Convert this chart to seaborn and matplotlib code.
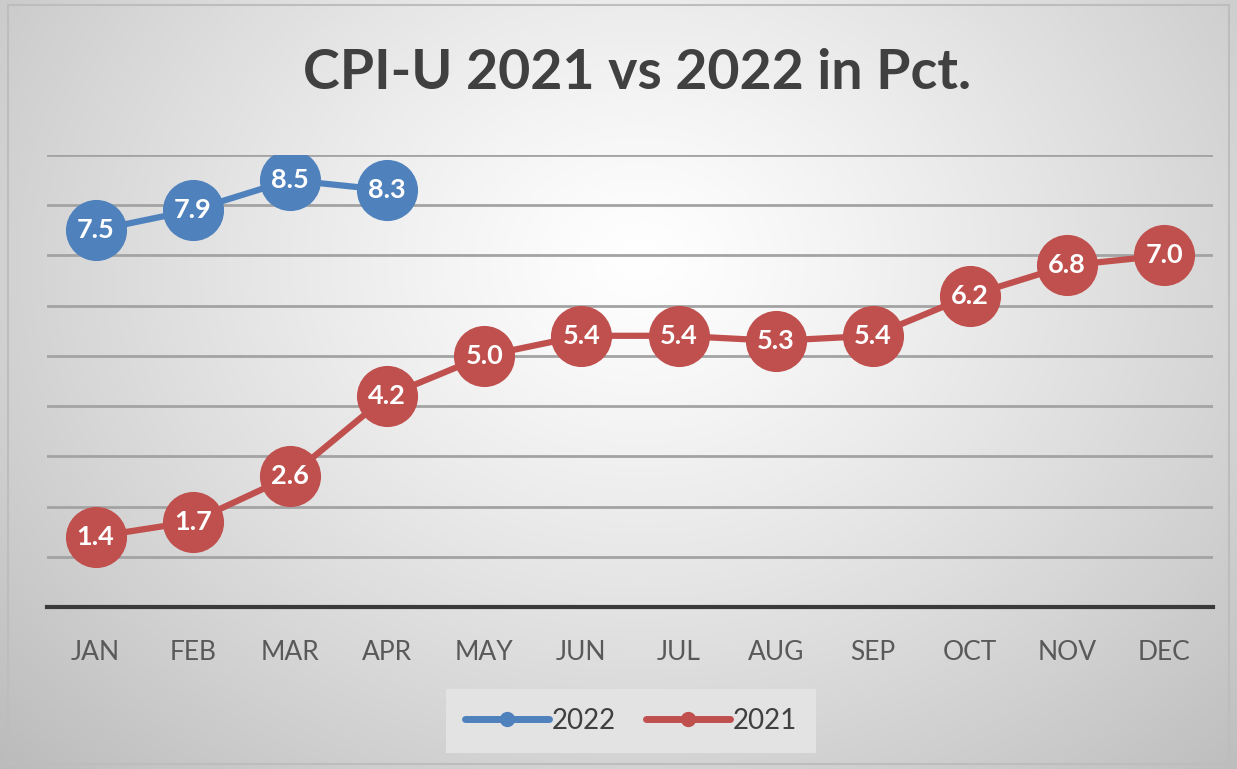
import numpy as np
import pandas as pd
import matplotlib
matplotlib.use("Agg")
import matplotlib.pyplot as plt
import seaborn as sns
from matplotlib.lines import Line2D
from matplotlib.patches import Rectangle

months = ["JAN", "FEB", "MAR", "APR", "MAY", "JUN", "JUL", "AUG", "SEP", "OCT", "NOV", "DEC"]
cpi_2021 = [1.4, 1.7, 2.6, 4.2, 5.0, 5.4, 5.4, 5.3, 5.4, 6.2, 6.8, 7.0]
cpi_2022 = [7.5, 7.9, 8.5, 8.3]
series_names = ["2022", "2021"]
colors = {"2022": "#4f81bd", "2021": "#c0504d"}
title = "CPI-U 2021 vs 2022 in Pct."

rows = []
for i, v in enumerate(cpi_2022):
    rows.append({"pos": i, "month": months[i], "value": v, "year": "2022"})
for i, v in enumerate(cpi_2021):
    rows.append({"pos": i, "month": months[i], "value": v, "year": "2021"})
df = pd.DataFrame(rows)

sns.set_theme(style="white")
plt.rcParams["font.family"] = ["Lato", "DejaVu Sans"]

W, H, DPI = 1237, 769, 100
fig = plt.figure(figsize=(W / DPI, H / DPI), dpi=DPI)
fig.patch.set_facecolor("white")

# background radial gradient
bg = fig.add_axes([0, 0, 1, 1], zorder=0)
yy, xx = np.mgrid[0:H, 0:W]
cx, cy = 640, 260
d = np.sqrt(((xx - cx) / 760.0) ** 2 + ((yy - cy) / 620.0) ** 2)
g = 1.0 - 0.22 * np.clip(d, 0, 1.3) ** 1.2
img = np.dstack([g, g, g])
bg.imshow(img, extent=[0, W, H, 0], aspect="auto", interpolation="bilinear")
bg.add_patch(Rectangle((8, 5), W - 16, H - 10, fill=False, edgecolor="#bdbdbd", linewidth=1.5))
bg.set_xlim(0, W)
bg.set_ylim(H, 0)
bg.axis("off")

ax = fig.add_axes([47 / W, (H - 607) / H, (1213 - 47) / W, (607 - 155) / H], zorder=1)
ax.patch.set_alpha(0)

for y in range(1, 10):
    ax.axhline(y, color="#a3a3a3", linewidth=2.0, zorder=1)

for name in series_names:
    sub = df[df["year"] == name]
    sns.lineplot(data=sub, x="pos", y="value", color=colors[name], linewidth=4.5,
                 marker="o", markersize=44, markeredgewidth=0, ax=ax, legend=False,
                 sort=False, zorder=3)
    for _, r in sub.iterrows():
        ax.text(r["pos"], r["value"], f"{r['value']:.1f}", ha="center", va="center",
                color="white", fontsize=19.5, fontweight="bold", zorder=5)

ax.set_xlim(-0.5, 11.5)
ax.set_ylim(0, 9)
ax.set_xticks(range(len(months)))
ax.set_xticklabels(months, fontsize=19, color="#595959")
ax.set_yticks([])
ax.tick_params(axis="x", length=0, pad=24)
ax.set_xlabel("")
ax.set_ylabel("")
for s in ["top", "right", "left"]:
    ax.spines[s].set_visible(False)
ax.spines["bottom"].set_color("#3a3a3a")
ax.spines["bottom"].set_linewidth(3)
ax.spines["bottom"].set_zorder(6)

fig.text(0.515, 1 - 73 / H, title, ha="center", va="center", fontsize=40,
         fontweight="bold", color="#404040")

handles = [Line2D([0], [0], color=colors[n], linewidth=5, marker="o", markersize=10,
                  solid_capstyle="round") for n in series_names]
leg = fig.legend(handles, series_names, loc="center", bbox_to_anchor=(631 / W, 1 - 721 / H),
                 ncol=2, frameon=True, fontsize=20, handlelength=3.0, columnspacing=1.1,
                 handletextpad=0.1, borderpad=0.7, fancybox=False)
leg.get_frame().set_facecolor("#e3e3e3")
leg.get_frame().set_edgecolor("none")
leg.get_frame().set_alpha(1)
for t in leg.get_texts():
    t.set_color("#404040")

fig.savefig("out.png", dpi=DPI)
